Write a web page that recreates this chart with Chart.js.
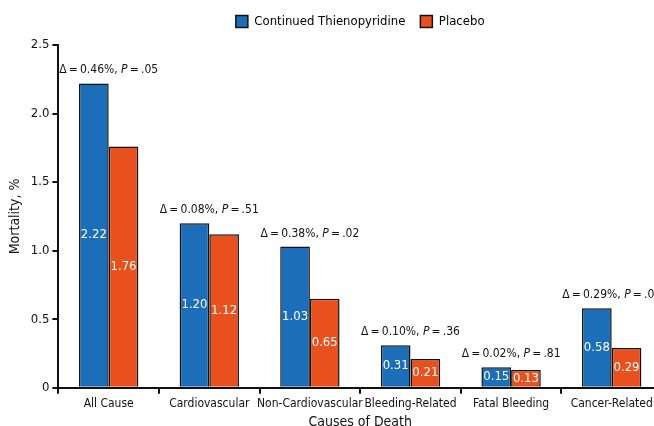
<!DOCTYPE html>
<html>
<head>
<meta charset="utf-8">
<script src="https://cdn.jsdelivr.net/npm/chart.js@4/dist/chart.umd.min.js"></script>
<style>
  html, body { margin: 0; padding: 0; background: #fff; overflow: hidden; }
  #wrap { width: 654px; height: 426px; overflow: hidden; }
</style>
</head>
<body>
<div id="wrap"><canvas id="myChart" width="680" height="431"></canvas></div>
<script>
var categories = ['All Cause', 'Cardiovascular', 'Non-Cardiovascular', 'Bleeding-Related', 'Fatal Bleeding', 'Cancer-Related'];
var thienopyridine = [2.22, 1.20, 1.03, 0.31, 0.15, 0.58];
var placebo = [1.76, 1.12, 0.65, 0.21, 0.13, 0.29];
var deltas = ['0.46%', '0.08%', '0.38%', '0.10%', '0.02%', '0.29%'];
var pValues = ['.05', '.51', '.02', '.36', '.81', '.02'];

var FONT = '"Liberation Sans Narrow", "DejaVu Sans Condensed", "Liberation Sans", sans-serif';
Chart.defaults.font.family = FONT;
Chart.defaults.color = '#111';

// extra room under the legend, and centre it over the plot area
var legendGap = {
  id: 'legendGap',
  beforeInit: function (chart) {
    var fit = chart.legend.fit;
    chart.legend.fit = function () {
      fit.bind(chart.legend)();
      this.height += 7;
    };
  },
  afterLayout: function (chart) {
    var lg = chart.legend;
    var shift = (chart.chartArea.left + chart.chartArea.right) / 2 - (lg.left + lg.right) / 2;
    lg.left += shift;
    lg.right += shift;
  }
};

// value labels inside bars + delta/P annotation above each group
var labelsPlugin = {
  id: 'labels',
  afterDatasetsDraw: function (chart) {
    var ctx = chart.ctx;
    var m0 = chart.getDatasetMeta(0), m1 = chart.getDatasetMeta(1);
    ctx.save();
    ctx.textAlign = 'center';
    ctx.textBaseline = 'middle';
    ctx.fillStyle = '#fff';
    ctx.font = '13px ' + FONT;
    [m0, m1].forEach(function (m, d) {
      m.data.forEach(function (bar, i) {
        var v = chart.data.datasets[d].data[i];
        ctx.fillText(v.toFixed(2), bar.x, (bar.y + bar.base) / 2);
      });
    });

    ctx.fillStyle = '#111';
    ctx.textAlign = 'left';
    ctx.textBaseline = 'alphabetic';
    categories.forEach(function (c, i) {
      var b0 = m0.data[i], b1 = m1.data[i];
      var cx = (b0.x + b1.x) / 2;
      var y = Math.min(b0.y, b1.y) - 10;
      var parts = [
        ['\u0394\u2009=\u2009' + deltas[i] + ', ', ''],
        ['P', 'italic '],
        ['\u2009=\u2009' + pValues[i], '']
      ];
      var total = 0;
      parts.forEach(function (p) { ctx.font = p[1] + '12px ' + FONT; p.w = ctx.measureText(p[0]).width; total += p.w; });
      var x = cx - total / 2;
      parts.forEach(function (p) { ctx.font = p[1] + '12px ' + FONT; ctx.fillText(p[0], x, y); x += p.w; });
    });
    ctx.restore();
  }
};

var ctx = document.getElementById('myChart');
var myChart = new Chart(ctx, {
  type: 'bar',
  data: {
    labels: categories,
    datasets: [{
      label: 'Continued Thienopyridine',
      data: thienopyridine,
      backgroundColor: '#1D6EB8',
      borderColor: '#111',
      borderWidth: 1.5
    }, {
      label: 'Placebo',
      data: placebo,
      backgroundColor: '#E8501E',
      borderColor: '#111',
      borderWidth: 1.5
    }]
  },
  options: {
    responsive: false,
    animation: false,
    layout: { padding: { top: 0, left: 7, right: 18, bottom: 0 } },
    datasets: { bar: { barPercentage: 1, categoryPercentage: 0.59 } },
    plugins: {
      legend: {
        position: 'top',
        labels: {
          boxWidth: 12,
          boxHeight: 12,
          padding: 15,
          color: '#111',
          font: { size: 13 },
          generateLabels: function (chart) {
            return chart.data.datasets.map(function (ds, i) {
              return { text: ds.label, fillStyle: ds.backgroundColor, strokeStyle: '#111', lineWidth: 1.5, datasetIndex: i };
            });
          }
        }
      },
      tooltip: { enabled: false }
    },
    scales: {
      x: {
        grid: { drawOnChartArea: false, drawTicks: true, tickLength: 6, color: '#111', lineWidth: 2 },
        border: { color: '#111', width: 2 },
        ticks: { color: '#111', font: { size: 12 }, maxRotation: 0, autoSkip: false, padding: 3 },
        title: { display: true, text: 'Causes of Death', color: '#111', font: { size: 14 }, padding: { top: 0, bottom: 0 } }
      },
      y: {
        min: 0,
        max: 2.5,
        grid: { drawOnChartArea: false, drawTicks: true, tickLength: 6, color: '#111', lineWidth: 2 },
        border: { color: '#111', width: 2 },
        ticks: {
          stepSize: 0.5,
          color: '#111',
          font: { size: 13 },
          padding: 3,
          callback: function (v) { return v === 0 ? '0' : v.toFixed(1); }
        },
        title: { display: true, text: 'Mortality, %', color: '#111', font: { size: 14 }, padding: { top: 0, bottom: 4 } }
      }
    }
  },
  plugins: [legendGap, labelsPlugin]
});
</script>
</body>
</html>
